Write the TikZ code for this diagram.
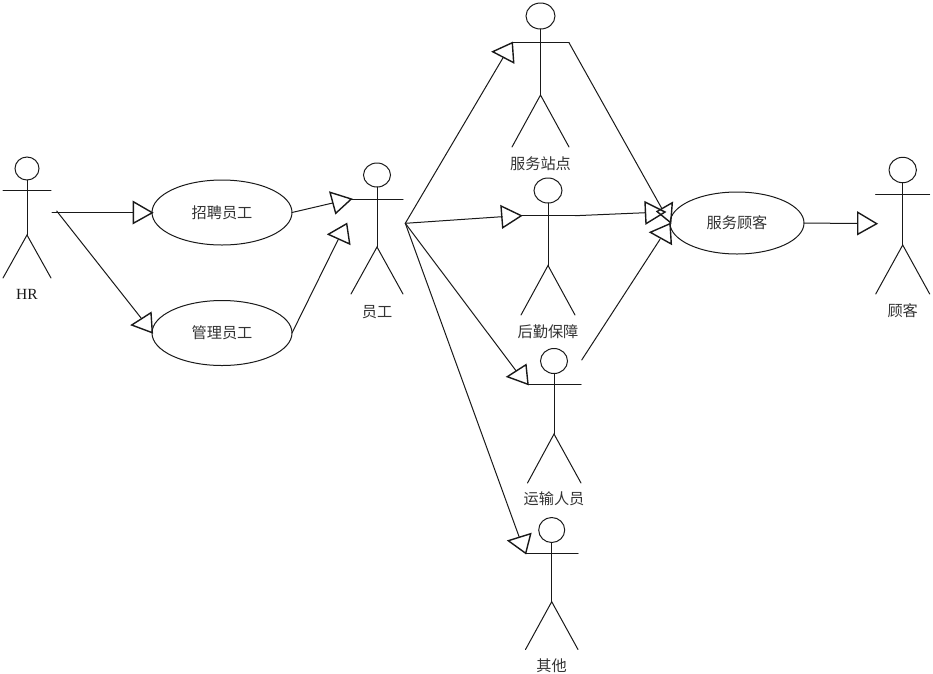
\documentclass[tikz,border=0pt]{standalone}
\usepackage{fontspec}
\setmainfont{Liberation Serif}
\newfontfamily\cjk{Noto Sans CJK SC}
\usetikzlibrary{shapes.geometric}
\tikzset{
  stroke/.style={draw=black!90,line width=1pt,line cap=round,line join=miter},
  tri/.style={draw=black!90,line width=1.4pt,line join=miter},
  usecase/.style={ellipse,draw=black!90,line width=1pt,inner sep=0pt,outer sep=0pt,font=\cjk\fontsize{15.2}{16}\selectfont,text=black!80},
  headshape/.style={ellipse,draw=black!90,line width=1pt,inner sep=0pt,outer sep=0pt},
  lab/.style={font=\cjk\fontsize{15.2}{16}\selectfont,text=black!80,inner sep=0pt},
  latinlab/.style={font=\fontsize{15.5}{16}\selectfont,text=black!90,inner sep=0pt}
}
% name, cx, head cy, head rx, head ry, arm y, arm left, arm right, hip y, foot y, foot left, foot right
\newcommand{\stickman}[9]{%
  \def\nm{#1}\def\cx{#2}\def\hy{#3}\def\hrx{#4}\def\hry{#5}\def\ay{#6}\def\al{#7}\def\ar{#8}\def\hipy{#9}%
  \stickmanb}
\newcommand{\stickmanb}[3]{%
  \node[headshape,minimum width=2*\hrx pt,minimum height=2*\hry pt] (\nm-head) at (\cx,\hy) {};
  \coordinate (\nm-hand-l) at (\al,\ay);
  \coordinate (\nm-hand-r) at (\ar,\ay);
  \coordinate (\nm-hip) at (\cx,\hipy);
  \coordinate (\nm-foot-l) at (#2,#1);
  \coordinate (\nm-foot-r) at (#3,#1);
  \draw[stroke] (\nm-head.south) -- (\nm-hip);
  \draw[stroke] (\nm-hand-l) -- (\nm-hand-r);
  \draw[stroke] (\nm-foot-l) -- (\nm-hip) -- (\nm-foot-r);
}
\newcommand{\tritip}[3]{\draw[tri] #1 -- #2 -- #3 -- cycle;}
\begin{document}
\begin{tikzpicture}[x=1pt,y=-1pt]
\useasboundingbox (0,0) rectangle (933,673);

% actors
\stickman{hr}{27}{168.5}{12}{11.5}{190.3}{3}{51}{235}{278}{3}{51}
\stickman{emp}{377}{175}{13.5}{12}{199}{351}{403}{247}{294}{351}{403}
\stickman{site}{540.5}{16}{14.5}{13}{42.7}{512.3}{569}{95}{147}{512}{569}
\stickman{log}{548}{190.5}{14}{12.5}{215.7}{521.3}{575}{265.5}{315}{521}{575}
\stickman{trans}{554}{361}{13.5}{12.5}{384.8}{528}{581}{434}{483}{527.5}{581}
\stickman{other}{551.7}{530}{13}{12.5}{553.3}{525.7}{578}{601.7}{649.5}{525.5}{578}
\stickman{cust}{902.7}{170}{13.7}{12.7}{194.4}{875.7}{929.7}{245}{294}{875.7}{929.7}

% labels
\node[latinlab] (l-hr) at (27,294) {HR};
\node[lab] (l-emp) at (377,312) {员工};
\node[lab] (l-site) at (540.5,164) {服务站点};
\node[lab] (l-log) at (548,332) {后勤保障};
\node[lab] (l-trans) at (554,499) {运输人员};
\node[lab] (l-other) at (551.5,666) {其他};
\node[lab] (l-cust) at (902.7,311) {顾客};

% use cases
\node[usecase,minimum width=140pt,minimum height=65pt] (hire) at (222,212.5) {招聘员工};
\node[usecase,minimum width=140pt,minimum height=65pt] (manage) at (222,333) {管理员工};
\node[usecase,minimum width=134pt,minimum height=62pt] (serve) at (737,223) {服务顾客};

% free connector ends
\coordinate (hr-out1) at (52,212.7);
\coordinate (hr-out2) at (56.7,211);
\coordinate (hire-in) at (133.3,212.7);
\coordinate (manage-in) at (141.3,318.3);
\coordinate (emp-in1) at (332.7,203);
\coordinate (emp-in2) at (338.3,239.3);
\coordinate (fan) at (405.3,223.3);
\coordinate (site-in) at (503.3,57.3);
\coordinate (log-in) at (502,216.7);
\coordinate (trans-in) at (516,370.7);
\coordinate (other-in) at (519.3,537.3);
\coordinate (serve-in1) at (661.7,208.3);
\coordinate (serve-in2) at (645.7,212.7);
\coordinate (serve-in3) at (660,239.3);
\coordinate (trans-out) at (581.7,360);
\coordinate (cust-in) at (857.7,223.5);

% connectors
\draw[stroke] (hr-out1) -- (hire-in);
\draw[stroke] (hr-out2) -- (manage-in);
\draw[stroke] (hire.east) -- (emp-in1);
\draw[stroke] (manage.east) -- (emp-in2);
\draw[stroke] (fan) -- (site-in);
\draw[stroke] (fan) -- (log-in);
\draw[stroke] (fan) -- (trans-in);
\draw[stroke] (fan) -- (other-in);
\draw[stroke] (site-hand-r) -- (serve-in1);
\draw[stroke] (log-hand-r) -- (serve-in2);
\draw[stroke] (trans-out) -- (serve-in3);
\draw[stroke] (serve.east) -- (cust-in);

% hollow arrowheads
\tritip{(133.3,201.7)}{(133.3,223.3)}{(152.3,212.7)}
\tritip{(151,312.7)}{(152.3,332.7)}{(131.7,325)}
\tritip{(330,192.3)}{(335.7,213.3)}{(351.3,199)}
\tritip{(328.3,234.3)}{(346.7,223.7)}{(349.7,244)}
\tritip{(492.7,51.7)}{(512.3,42.7)}{(513.7,62.7)}
\tritip{(501,206)}{(502.7,227.7)}{(521.3,215.7)}
\tritip{(507.3,376.7)}{(526,364.7)}{(528,384.3)}
\tritip{(508.3,540.7)}{(530.7,533.7)}{(525.7,553.3)}
\tritip{(672.3,202.7)}{(670.7,222.7)}{(657,211.5)}
\tritip{(645,202)}{(646,223.7)}{(665,212)}
\tritip{(650.3,232.3)}{(670,223.7)}{(671.3,244)}
\tritip{(857.7,212.3)}{(857.7,234.3)}{(876.7,223.7)}
\end{tikzpicture}
\end{document}
